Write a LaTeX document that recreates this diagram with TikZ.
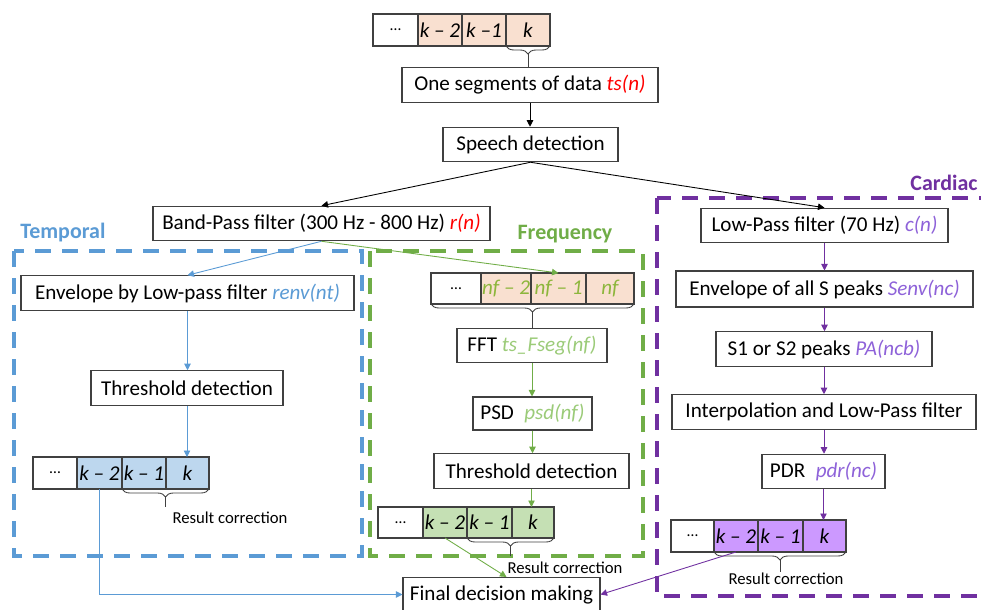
\documentclass[tikz,border=0pt]{standalone}
\usepackage{fontspec}
\setmainfont{Carlito}
\usetikzlibrary{positioning,calc,arrows.meta,decorations.pathreplacing}
\definecolor{tblue}{HTML}{5B9BD5}
\definecolor{fgreen}{HTML}{70AD47}
\definecolor{cpurple}{HTML}{7030A0}
\definecolor{bluefill}{HTML}{BDD7EE}
\definecolor{greenfill}{HTML}{C5E0B4}
\definecolor{purplefill}{HTML}{CC99FF}
\definecolor{peach}{HTML}{F9E0D0}
\definecolor{lgreen}{HTML}{9BCB78}
\definecolor{nfgreen}{HTML}{8DB63C}
\definecolor{clabel}{HTML}{8E62D9}

\begin{document}
\begin{tikzpicture}[x=0.2mm, y=-0.2mm,
        >={Triangle[length=1.3mm,width=1.3mm]},
        every node/.style = {font=\fontsize{12}{14}\selectfont},
        box/.style = {draw=black!75, line width=0.6pt, minimum height=6.9mm,
                inner sep=1mm, fill=white},
        cell/.style = {draw=black!75, line width=0.6pt, minimum width=8.8mm,
                minimum height=6.4mm, inner sep=0pt, outer sep=0pt,
                font=\fontsize{12}{14}\selectfont\itshape},
        dots/.style = {cell, fill=white, font=\fontsize{9}{10}\selectfont},
        frame/.style = {dash pattern=on 3.2mm off 2.2mm, line width=2pt},
        grp/.style = {inner sep=0pt, font=\fontsize{12.5}{14}\selectfont\bfseries},
        note/.style = {font=\fontsize{9.5}{11}\selectfont},
        brc/.style = {draw=black!75, line width=0.5pt, decorate,
                decoration={brace, mirror, amplitude=1.6mm}},
        link/.style = {->, line width=0.5pt},
    ]
        \useasboundingbox (0,0) rectangle (981,610);

        % group frames
        \draw[frame, tblue] (14,251) rectangle (362,556);
        \draw[frame, fgreen] (370,251) rectangle (643,556);
        \draw[frame, cpurple] (657,198) rectangle (995,596);
        \node[grp, tblue, anchor=west] (tlab) at (20,233) {Temporal};
        \node[grp, fgreen] (flab) at (565,234) {Frequency};
        \node[grp, cpurple, anchor=east] (clab) at (978,183) {Cardiac};

        % input segments
        \node[dots, minimum width=9mm, anchor=north west] (t0) at (373,14) {\dots};
        \node[cell, fill=peach, right=0pt of t0] (t1) {k – 2};
        \node[cell, fill=peach, right=0pt of t1] (t2) {k –1};
        \node[cell, fill=peach, right=0pt of t2] (t3) {k};

        \node[box, minimum width=51.2mm] (seg) at (530,85)
            {One segments of data \textcolor{red}{\itshape ts(n)}};
        \node[box, minimum width=35mm] (speech) at (530.5,144.5) {Speech detection};
        \node[box, minimum width=67.4mm] (bp) at (321.5,223.5)
            {Band-Pass filter (300 Hz - 800 Hz) \textcolor{red}{\itshape r(n)}};
        \node[box, minimum width=49.4mm] (lp) at (824.5,225.5)
            {Low-Pass filter (70 Hz) \textcolor{clabel}{\itshape c(n)}};

        % temporal
        \node[box, minimum width=66.6mm] (env) at (187.5,293)
            {Envelope by Low-pass filter \textcolor{tblue}{\itshape renv(nt)}};
        \node[box, minimum width=38.4mm] (thrT) at (187,388) {Threshold detection};
        \node[dots, anchor=north west] (b0) at (33,457) {\dots};
        \node[cell, fill=bluefill, minimum width=9mm, right=0pt of b0] (b1) {k – 2};
        \node[cell, fill=bluefill, right=0pt of b1] (b2) {k – 1};
        \node[cell, fill=bluefill, minimum width=8.6mm, right=0pt of b2] (b3) {k};

        % frequency
        \node[dots, minimum width=10mm, minimum height=6.2mm, anchor=north west] (n0) at (431,273) {\dots};
        \node[cell, fill=peach, text=nfgreen, minimum width=10mm, minimum height=6.2mm, right=0pt of n0] (n1) {nf – 2};
        \node[cell, fill=peach, text=nfgreen, minimum width=11mm, minimum height=6.2mm, right=0pt of n1] (n2) {nf – 1};
        \node[cell, fill=peach, text=nfgreen, minimum width=9.6mm, minimum height=6.2mm, right=0pt of n2] (n3) {nf};
        \node[box, minimum width=30mm] (fft) at (532,345.5)
            {FFT \textcolor{lgreen}{\itshape ts\_Fseg(nf)}};
        \node[box, minimum width=23.8mm, minimum height=6.6mm] (psd) at (532.5,413.5)
            {PSD\enspace\textcolor{lgreen}{\itshape psd(nf)}};
        \node[box, minimum width=39mm] (thrF) at (531.5,471) {Threshold detection};
        \node[dots, minimum width=9mm, minimum height=6.2mm, anchor=north west] (g0) at (378,507) {\dots};
        \node[cell, fill=greenfill, minimum height=6.2mm, right=0pt of g0] (g1) {k – 2};
        \node[cell, fill=greenfill, minimum width=9mm, minimum height=6.2mm, right=0pt of g1] (g2) {k – 1};
        \node[cell, fill=greenfill, minimum width=8.4mm, minimum height=6.2mm, right=0pt of g2] (g3) {k};

        % cardiac
        \node[box, minimum width=59.4mm, minimum height=7.2mm] (envS) at (824.5,289)
            {Envelope of all S peaks \textcolor{clabel}{\itshape Senv(nc)}};
        \node[box, minimum width=43.2mm] (s12) at (824,349)
            {S1 or S2 peaks \textcolor{clabel}{\itshape PA(ncb)}};
        \node[box, minimum width=60.8mm] (interp) at (824,412) {Interpolation and Low-Pass filter};
        \node[box, minimum width=24.6mm] (pdr) at (823.5,471.5)
            {PDR\enspace\textcolor{clabel}{\itshape pdr(nc)}};
        \node[dots, minimum width=8.6mm, anchor=north west] (p0) at (671,520) {\dots};
        \node[cell, fill=purplefill, right=0pt of p0] (p1) {k – 2};
        \node[cell, fill=purplefill, minimum width=9mm, right=0pt of p1] (p2) {k – 1};
        \node[cell, fill=purplefill, minimum width=8.6mm, right=0pt of p2] (p3) {k};

        \node[box, minimum width=39.4mm, minimum height=6.8mm] (final) at (501.5,594.5)
            {Final decision making};

        % braces
        \draw[brc] (t3.south west) -- (t3.south east);
        \coordinate (tb) at ($(t3.south)+(0,-1.6mm)$);
        \draw[black!75, line width=0.5pt] (tb) -- (tb |- seg.north);
        \draw[brc] (n0.south west) -- (n3.south east);
        \coordinate (nb) at ($(n0.south west)!.5!(n3.south east)+(0,-1.6mm)$);
        \draw[black!75, line width=0.5pt] (nb) -- (nb |- fft.north);
        \draw[brc] (b2.south west) -- (b3.south east);
        \coordinate (bb) at ($(b2.south west)!.5!(b3.south east)+(0,-1.6mm)$);
        \draw[black!75, line width=0.5pt] (bb) -- ++(0,-2mm);
        \draw[brc] (g2.south west) -- (g3.south east);
        \coordinate (gb) at ($(g2.south west)!.5!(g3.south east)+(0,-1.6mm)$);
        \draw[black!75, line width=0.5pt] (gb) -- ++(0,-2mm);
        \draw[brc] (p1.south west) -- (p3.south east);
        \coordinate (pb) at ($(p1.south west)!.5!(p3.south east)+(0,-1.6mm)$);
        \draw[black!75, line width=0.5pt] (pb) -- ++(0,-2.4mm);
        \node[note] (bnote) at (230,518) {Result correction};
        \node[note] (gnote) at (565,568) {Result correction};
        \node[note] (pnote) at (786,579) {Result correction};

        % connectors
        \draw[link] (seg.south) -- (seg.south |- speech.north);
        \draw[link] (speech.south) -- (bp.north);
        \draw[link] (speech.south) -- (lp.north);
        \draw[link, tblue] (bp.south) -- (env.north);
        \draw[link, fgreen] (bp.south) -- (n2.north);
        \draw[link, tblue] (env.south) -- (env.south |- thrT.north);
        \draw[link, tblue] (thrT.south) -- (thrT.south |- b3.north);
        \draw[link, tblue] (b1.south) |- (final.west);
        \draw[link, fgreen] (fft.south) -- (fft.south |- psd.north);
        \draw[link, fgreen] (psd.south) -- (psd.south |- thrF.north);
        \draw[link, fgreen] (thrF.south) -- (thrF.south |- g3.north);
        \draw[link, fgreen] (g1.south) -- ([xshift=1mm]final.north);
        \draw[link, cpurple] (lp.south) -- (lp.south |- envS.north);
        \draw[link, cpurple] (envS.south) -- (envS.south |- s12.north);
        \draw[link, cpurple] (s12.south) -- (s12.south |- interp.north);
        \draw[link, cpurple] (interp.south) -- (interp.south |- pdr.north);
        \draw[link, cpurple] (pdr.south) -- (pdr.south |- p3.north);
        \draw[link, cpurple] (p1.south) -- (final.east);
    \end{tikzpicture}
\end{document}
